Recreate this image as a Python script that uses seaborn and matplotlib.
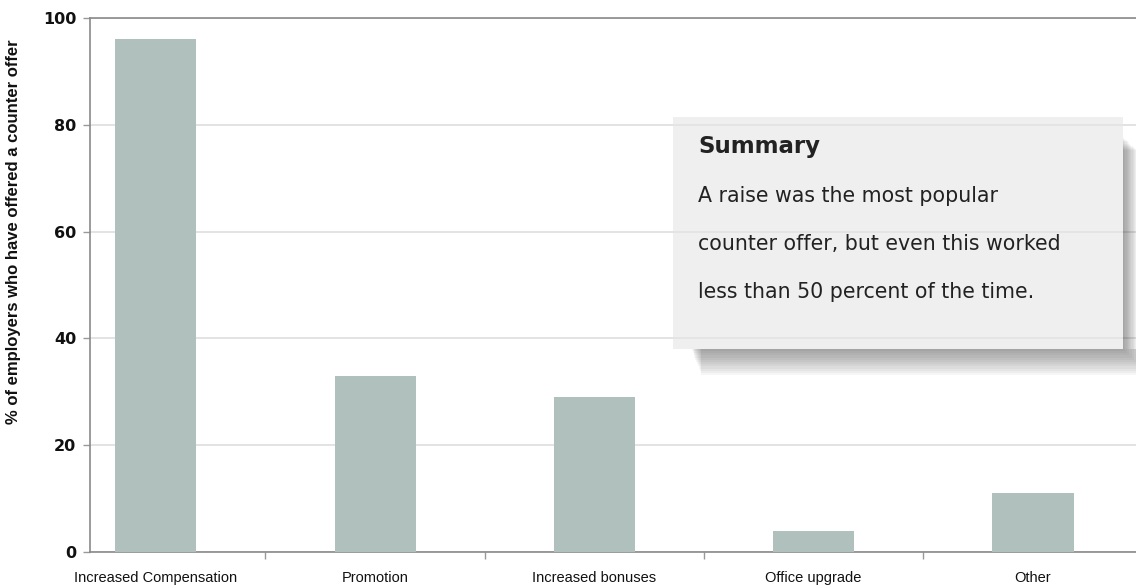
import matplotlib
matplotlib.use("Agg")
import matplotlib.pyplot as plt
import seaborn as sns
import pandas as pd
from matplotlib.patches import Rectangle

categories = ["Increased Compensation", "Promotion", "Increased bonuses", "Office upgrade", "Other"]
values = [96, 33, 29, 4, 11]
yticks = [0, 20, 40, 60, 80, 100]

summary_title = "Summary"
summary_lines = ["A raise was the most popular",
                 "counter offer, but even this worked",
                 "less than 50 percent of the time."]

sns.set_theme(style="white")
plt.rcParams['font.family'] = ['Liberation Sans', 'DejaVu Sans']

df = pd.DataFrame({"cat": categories, "val": values})

fig = plt.figure(figsize=(11.36, 5.87), dpi=100)
ax = fig.add_axes([90/1136, 35/587, 1 - 90/1136, (552-18)/587])

sns.barplot(data=df, x="cat", y="val", color="#b0c0bc", saturation=1, width=0.37,
            linewidth=0, ax=ax, zorder=3)

ax.set_xlim(-0.30, 4.47)
ax.set_ylim(0, 100)
ax.set_yticks(yticks)
ax.set_yticklabels([str(t) for t in yticks], fontsize=11.5, fontweight="bold", family=["DejaVu Sans"])
ax.yaxis.grid(True, color="#dedede", linewidth=1.2, zorder=0)
ax.set_axisbelow(True)
ax.tick_params(axis="y", length=5, width=1, color="#999999", left=True, pad=5, labelcolor="#111111")

ax.set_xticks(range(len(categories)))
ax.set_xticklabels(categories, fontsize=10.5, color="#111111")
ax.set_xticks([i + 0.5 for i in range(len(categories) - 1)], minor=True)
ax.tick_params(axis="x", which="major", length=0, pad=14)
ax.tick_params(axis="x", which="minor", length=5, width=1, color="#999999", bottom=True)

ax.set_xlabel("")
ax.set_ylabel("% of employers who have offered a counter offer", fontsize=12, fontweight="bold", color="#111111")
ax.yaxis.set_label_coords(-69/1046, (552 - 232) / 534)

for s in ["left", "bottom", "top"]:
    ax.spines[s].set_color("#8a8a8a")
    ax.spines[s].set_linewidth(1.2)
ax.spines["right"].set_visible(False)

# Summary box with soft shadow (figure coordinates)
def fx(px):
    return px / 1136
def fy(py):
    return 1 - py / 587

bx0, by0, bx1, by1 = 673, 117, 1123, 349
for k in range(12):
    off = 2 + k * 2.2
    # bottom strip
    fig.patches.append(Rectangle((fx(bx0 + 18 + off * 0.4), fy(by1 + off)), fx(bx1 - bx0 - 18 + off * 0.6), off / 587,
                                 transform=fig.transFigure, facecolor="#303030", alpha=0.045,
                                 edgecolor="none", zorder=4))
    # right strip
    fig.patches.append(Rectangle((fx(bx1), fy(by1)), fx(off * 0.55), (by1 - by0 - 20 - off * 0.5) / 587,
                                 transform=fig.transFigure, facecolor="#303030", alpha=0.045,
                                 edgecolor="none", zorder=4))
fig.patches.append(Rectangle((fx(bx0), fy(by1)), fx(bx1 - bx0), (by1 - by0) / 587,
                             transform=fig.transFigure, facecolor="#e6e6e6", alpha=0.62,
                             edgecolor="none", zorder=5))

fig.text(fx(698), fy(146), summary_title, fontsize=16.5, fontweight="bold", color="#222222",
         family=["DejaVu Sans"], va="center", ha="left", zorder=6)
for i, line in enumerate(summary_lines):
    fig.text(fx(698), fy(196 + i * 48), line, fontsize=14.8, color="#222222",
             family=["DejaVu Sans"], va="center", ha="left", zorder=6)

fig.savefig("out.png", dpi=100)
